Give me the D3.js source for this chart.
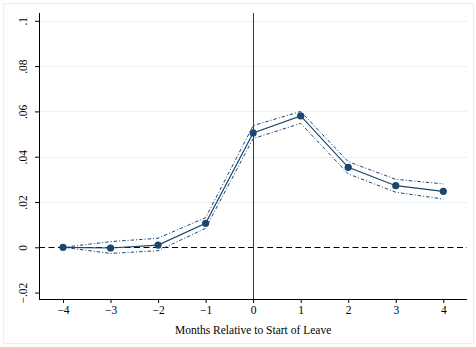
<!DOCTYPE html>
<html>
<head>
<meta charset="utf-8">
<script src="https://cdn.jsdelivr.net/npm/d3@7"></script>
<style>
  body { margin: 0; background: #fff; }
  svg text { font-family: "Liberation Serif", "DejaVu Serif", serif !important; }
</style>
</head>
<body>
<div id="chart_div"></div>
<script>
    const months = [-4, -3, -2, -1, 0, 1, 2, 3, 4];
    const estimates = [0, -0.0003, 0.001, 0.0106, 0.0505, 0.058, 0.0353, 0.0272, 0.0247];
    const upperCI = [0, 0.0025, 0.004, 0.0131, 0.0537, 0.0600, 0.0378, 0.0300, 0.0280];
    const lowerCI = [0, -0.0027, -0.0015, 0.0084, 0.0480, 0.0547, 0.0324, 0.0243, 0.0213];
    const yTicks = [-0.02, 0, 0.02, 0.04, 0.06, 0.08, 0.1];
    const yTickLabels = ["\u2212.02", "0", ".02", ".04", ".06", ".08", ".1"];
    const xLabel = "Months Relative to Start of Leave";

    const width = 476;
    const height = 347;
    const plotLeft = 39, plotRight = 467, plotTop = 13, plotBottom = 299;
    const navy = "#1a476f";
    const serif = "'Liberation Serif', 'DejaVu Serif', serif";

    const x = d3.scaleLinear()
        .domain([-4, 4])
        .range([63, 443.3]);

    const y = d3.scaleLinear()
        .domain([0, 0.1])
        .range([247.3, 20.8]);

    const svg = d3.select("#chart_div")
        .append("svg")
        .attr("width", width)
        .attr("height", height);

    // outer graph region
    svg.append("rect")
        .attr("x", 3.5).attr("y", 3.5)
        .attr("width", 470).attr("height", 340)
        .attr("fill", "#fff")
        .attr("stroke", "#eaf0f2")
        .attr("stroke-width", 1.2);

    // grid lines
    svg.append("g")
        .selectAll("line")
        .data(yTicks.filter(d => d > 0))
        .enter()
        .append("line")
        .attr("x1", plotLeft).attr("x2", plotRight)
        .attr("y1", d => Math.round(y(d)) + 0.5).attr("y2", d => Math.round(y(d)) + 0.5)
        .attr("stroke", "#eaf2f3")
        .attr("stroke-width", 1);

    // dashed zero line
    svg.append("line")
        .attr("x1", plotLeft).attr("x2", plotRight)
        .attr("y1", Math.round(y(0)) + 0.5).attr("y2", Math.round(y(0)) + 0.5)
        .attr("stroke", "#000")
        .attr("stroke-width", 1)
        .attr("stroke-dasharray", "6,3.5");

    // vertical line at month 0
    const x0 = Math.floor(x(0)) + 0.5;
    svg.append("line")
        .attr("x1", x0).attr("x2", x0)
        .attr("y1", plotTop).attr("y2", plotBottom)
        .attr("stroke", "#990c38")
        .attr("stroke-width", 1);

    const line = d3.line()
        .x((d, i) => x(months[i]))
        .y(d => y(d));

    // confidence bands
    [upperCI, lowerCI].forEach(ci => {
        svg.append("path")
            .datum(ci)
            .attr("d", line)
            .attr("fill", "none")
            .attr("stroke", navy)
            .attr("stroke-width", 1)
            .attr("stroke-dasharray", "3.5,2,1,2");
    });

    // point estimates
    svg.append("path")
        .datum(estimates)
        .attr("d", line)
        .attr("fill", "none")
        .attr("stroke", navy)
        .attr("stroke-width", 1.2);

    svg.append("g")
        .selectAll("circle")
        .data(estimates)
        .enter()
        .append("circle")
        .attr("cx", (d, i) => x(months[i]))
        .attr("cy", d => y(d))
        .attr("r", 3.6)
        .attr("fill", navy);

    // axes
    const xAxis = svg.append("g")
        .attr("transform", `translate(0,${plotBottom})`)
        .call(d3.axisBottom(x).tickValues(months)
            .tickFormat(d => d < 0 ? "\u2212" + Math.abs(d) : d)
            .tickSize(4).tickSizeOuter(0));
    xAxis.select(".domain").attr("d", `M${plotLeft},0.5H${plotRight}`);
    xAxis.selectAll("text")
        .style("font-family", serif)
        .attr("font-size", 11.5)
        .attr("fill", "#000")
        .attr("y", 7)
        .attr("dy", "0.71em");

    const yAxis = svg.append("g")
        .attr("transform", `translate(${plotLeft},0)`)
        .call(d3.axisLeft(y).tickValues(yTicks)
            .tickFormat((d, i) => yTickLabels[i])
            .tickSize(4).tickSizeOuter(0));
    yAxis.select(".domain").attr("d", `M0.5,${plotTop}V${plotBottom}`);
    yAxis.selectAll("text")
        .style("font-family", serif)
        .attr("font-size", 11.5)
        .attr("fill", "#000")
        .attr("x", null).attr("dy", null)
        .attr("text-anchor", "middle")
        .attr("transform", "translate(-12,0) rotate(-90)");

    svg.selectAll(".domain, .tick line").attr("stroke", "#000");

    svg.append("text")
        .style("font-family", serif)
        .attr("x", x(0))
        .attr("y", 334)
        .attr("text-anchor", "middle")
        .attr("font-size", 11.5)
        .text(xLabel);
</script>
</body>
</html>
